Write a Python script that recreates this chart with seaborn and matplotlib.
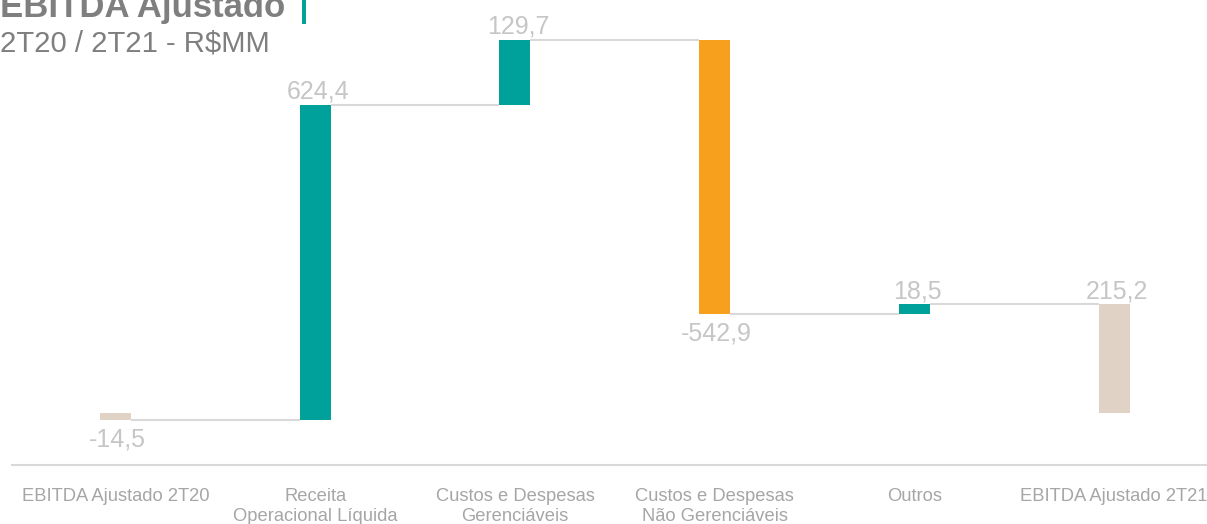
import matplotlib
matplotlib.use("Agg")
import matplotlib.pyplot as plt
from matplotlib.patches import Rectangle
import seaborn as sns
import numpy as np
import pandas as pd

categories = ["EBITDA Ajustado 2T20", "Receita\nOperacional Líquida",
              "Custos e Despesas\nGerenciáveis", "Custos e Despesas\nNão Gerenciáveis",
              "Outros", "EBITDA Ajustado 2T21"]
values = [-14.5, 624.4, 129.7, -542.9, 18.5, 215.2]
kinds = ["total", "delta", "delta", "delta", "delta", "total"]
value_labels = ["-14,5", "624,4", "129,7", "-542,9", "18,5", "215,2"]

TEAL = "#00A19A"
ORANGE = "#F7A01E"
BEIGE = "#E0D3C5"
LINE = "#D9D9D9"
LABEL = "#C6C6C6"
TICK = "#A6A6A6"
TITLE = "#7F7F7F"

# waterfall geometry from the values
bottoms, ends = [], []
running = 0.0
for v, k in zip(values, kinds):
    if k == "total":
        bottoms.append(0.0)
        running = v
    else:
        bottoms.append(running)
        running = running + v
    ends.append(running)

df = pd.DataFrame({"category": categories, "height": values, "bottom": bottoms})

sns.set_theme(style="white")
plt.rcParams["font.family"] = ["Liberation Sans", "DejaVu Sans"]

W, H = 1207, 524
fig = plt.figure(figsize=(W / 100, H / 100), dpi=100)
ax_left, ax_right = 11.7, 1213.9
ax_bot, ax_top = 465, 0
ax = fig.add_axes([ax_left / W, (H - ax_bot) / H, (ax_right - ax_left) / W, (ax_bot - ax_top) / H])

bw = 0.155
sns.barplot(data=df, x="category", y="height", order=categories, bottom=df["bottom"].values,
            width=bw, errorbar=None, color=TEAL, saturation=1, ax=ax, linewidth=0)

for p, v, k in zip(ax.patches, values, kinds):
    if k == "total":
        p.set_facecolor(BEIGE)
    elif v >= 0:
        p.set_facecolor(TEAL)
    else:
        p.set_facecolor(ORANGE)
    p.set_edgecolor("none")

# connectors
for i in range(len(values) - 1):
    lvl = ends[i]
    ax.plot([i + bw / 2, i + 1 - bw / 2], [lvl, lvl], color=LINE, lw=1.5, zorder=1,
            solid_capstyle="butt")

# value labels
for i, (v, lab) in enumerate(zip(values, value_labels)):
    lo = min(bottoms[i], bottoms[i] + v)
    hi = max(bottoms[i], bottoms[i] + v)
    if v >= 0:
        ax.annotate(lab, (i + 0.015, hi), xytext=(0, 4.5), textcoords="offset points",
                    ha="center", va="baseline", fontsize=18, color=LABEL)
    else:
        ax.annotate(lab, (i + 0.01, lo), xytext=(0, -5.5), textcoords="offset points",
                    ha="center", va="top", fontsize=18, color=LABEL)

ax.set_xlim(-0.52, 5.5)
ax.set_ylim(-103, 818)
ax.set_xlabel("")
ax.set_ylabel("")
ax.set_yticks([])
for s in ["top", "right", "left"]:
    ax.spines[s].set_visible(False)
ax.spines["bottom"].set_color(LINE)
ax.spines["bottom"].set_linewidth(1.5)
ax.tick_params(axis="x", length=0, pad=16.5, labelsize=13.2, labelcolor=TICK)
for t in ax.get_xticklabels():
    t.set_linespacing(1.22)

# title
fig.text(0.0, 1 - 17 / H, "EBITDA Ajustado", fontsize=25, fontweight="bold",
         color=TITLE, ha="left", va="baseline")
fig.patches.append(Rectangle((302 / W, 1 - 24 / H), 3.5 / W, 24 / H, transform=fig.transFigure,
                             facecolor=TEAL, edgecolor="none"))
fig.text(0.0, 1 - 52 / H, "2T20 / 2T21 - R$MM", fontsize=21.1, color=TITLE,
         ha="left", va="baseline")

fig.savefig("out.png", dpi=100)
